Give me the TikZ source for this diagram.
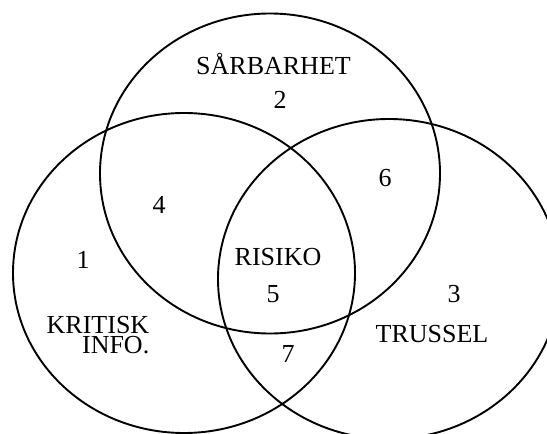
\documentclass[tikz,border=0pt]{standalone}
\usepackage{fontspec}
\setmainfont{Liberation Serif}
\begin{document}
\begin{tikzpicture}[x=1pt, y=-1pt, every node/.style={font=\fontsize{26}{20.5}\selectfont, inner sep=0pt}]
  \tikzstyle{ring}=[draw, line width=1.9pt]
  \useasboundingbox (0,0) rectangle (547,434);
  \clip (0,0) rectangle (547,434);
  % the three sets
  \draw[ring] (270,173.5) ellipse [x radius=170pt, y radius=160pt];
  \draw[ring] (184,273) ellipse [x radius=171pt, y radius=160pt];
  \draw[ring] (389,279) ellipse [x radius=171pt, y radius=160pt];
  % labels
  \node (sarb) at (273.5,64) {SÅRBARHET};
  \node (n2) at (280,100) {2};
  \node (n1) at (83,260) {1};
  \node (n4) at (159,205) {4};
  \node (n6) at (385,178) {6};
  \node (risiko) at (278,257) {RISIKO};
  \node (n5) at (273,294) {5};
  \node (n3) at (454,294) {3};
  \node[align=right] (krit) at (98,335) {KRITISK\\INFO.};
  \node (truss) at (432,334.5) {TRUSSEL};
  \node (n7) at (288,354) {7};
\end{tikzpicture}
\end{document}
